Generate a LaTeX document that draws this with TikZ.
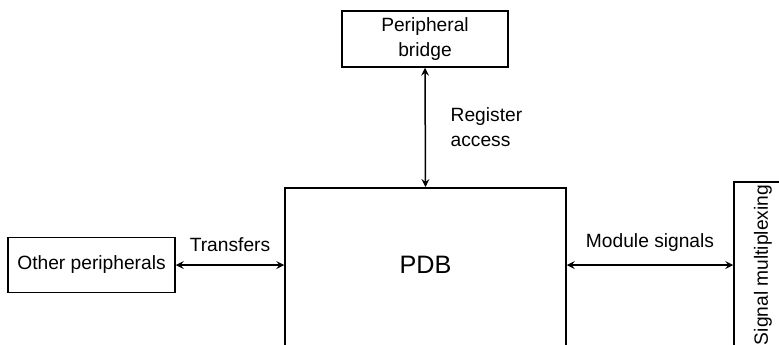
\documentclass[tikz,border=0pt]{standalone}
\usepackage{fontspec}
\setmainfont{Liberation Sans}
\usepackage{tikz}
\usetikzlibrary{calc, positioning}
\usetikzlibrary{arrows.meta}
\tikzset{>=stealth}
\tikzset{
	blk/.style={draw, line width=0.75pt, inner sep=0pt, align=center, font=\fontsize{9.6}{12.5}\selectfont},
	lnk/.style={<->, line width=0.75pt},
	lbl/.style={font=\fontsize{9.6}{12.5}\selectfont, align=left}
}

\begin{document}
\begin{tikzpicture}[x=0.5pt,y=-0.5pt]
			\useasboundingbox (0,0) rectangle (779,344);
			\node [blk, minimum width=83pt, minimum height=28pt] (bridge) at (425,39) {Peripheral\\bridge};
			\node [blk, minimum width=140.5pt, minimum height=90pt, anchor=north] (pdb) at (425.5,187) {};
			\node [font=\fontsize{12.6}{15}\selectfont] (pdbname) at (425.5,265) {PDB};
			\node [blk, minimum width=83.5pt, minimum height=27.5pt] (other) at (91.5,265) {Other peripherals};
			\node [blk, minimum width=83pt, minimum height=29pt, rotate=90] (mux) at (763,265) {Signal multiplexing};
			\draw [lnk] (bridge.south) -- node [lbl, right=9pt] (regacc) {Register\\access} (pdb.north);
			\draw [lnk] (other.east) -- node [lbl, above=3pt] (xfer) {Transfers} (other.east -| pdb.west);
			\draw [lnk] (mux.north -| pdb.east) -- node [lbl, above=3pt] (modsig) {Module signals} (mux.north);
		\end{tikzpicture}
\end{document}
